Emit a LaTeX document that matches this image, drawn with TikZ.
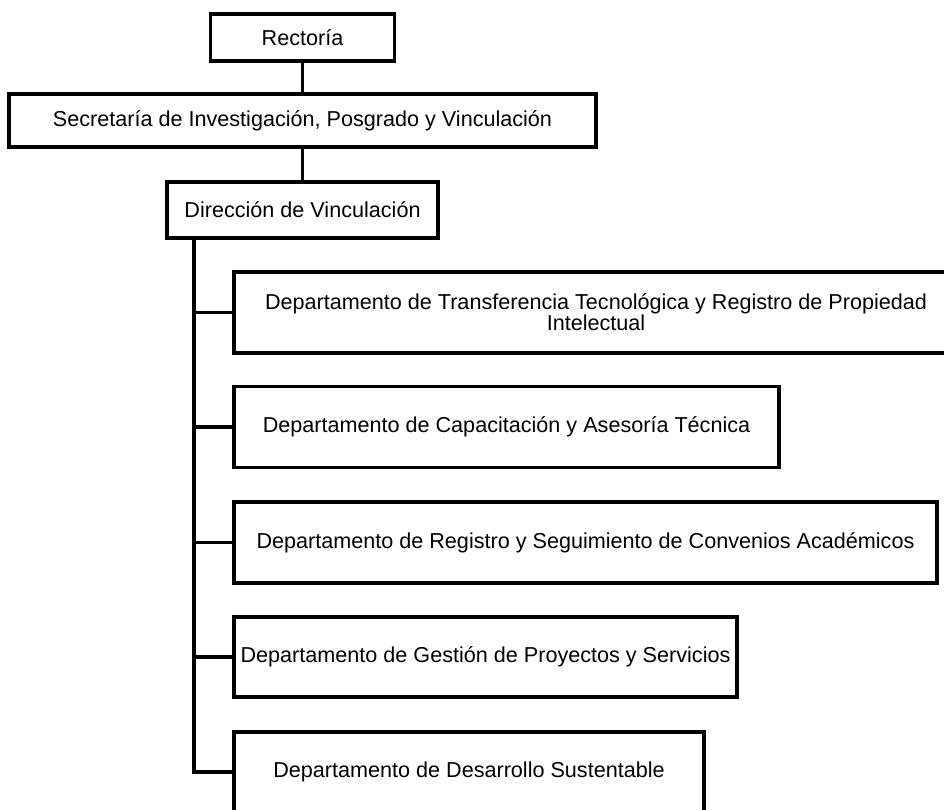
\documentclass[tikz,border=0pt]{standalone}
\usepackage{fontspec}
\setmainfont{Liberation Sans}
\tikzset{
  org/.style={draw,line width=3.2pt,inner sep=0pt,outer sep=0pt,align=center,
    font=\fontsize{21.6}{21}\selectfont},
  dept/.style={org,anchor=west,minimum height=81pt},
  link/.style={line width=3.2pt},
}

\begin{document}
\begin{tikzpicture}[x=1pt,y=-1pt]
    \path[use as bounding box,clip] (0,0) rectangle (944,809);
    \node[org,minimum width=184pt,minimum height=47pt] (rec) at (302.5,37.5) {Rectoría};
    \node[org,minimum width=587pt,minimum height=53pt] (sec) at (302.5,120.5) {Secretaría de Investigación, Posgrado y Vinculación};
    \node[org,minimum width=271pt,minimum height=56pt] (dir) at (302.5,210) {Dirección de Vinculación};
    \node[dept,minimum width=724pt] (dep1) at (234,312.5) {Departamento de Transferencia Tecnológica y Registro de Propiedad\\Intelectual};
    \node[dept,minimum width=545pt] (dep2) at (234,427) {Departamento de Capacitación y Asesoría Técnica};
    \node[dept,minimum width=703pt] (dep3) at (234,542.5) {Departamento de Registro y Seguimiento de Convenios Académicos};
    \node[dept,minimum width=503pt,minimum height=80pt] (dep4) at (234,657) {Departamento de Gestión de Proyectos y Servicios};
    \node[dept,minimum width=470pt,minimum height=80pt] (dep5) at (234,772) {Departamento de Desarrollo Sustentable};
    \coordinate (trunk) at ([xshift=27pt]dir.south west);
    \draw[link] (rec)--(sec);
    \draw[link] (sec)--(dir);
    \draw[link] (trunk) |- (dep5.west);
    \foreach \d in {dep1,dep2,dep3,dep4}
        \draw[link] (trunk |- \d.west)--(\d.west);
\end{tikzpicture}
\end{document}
